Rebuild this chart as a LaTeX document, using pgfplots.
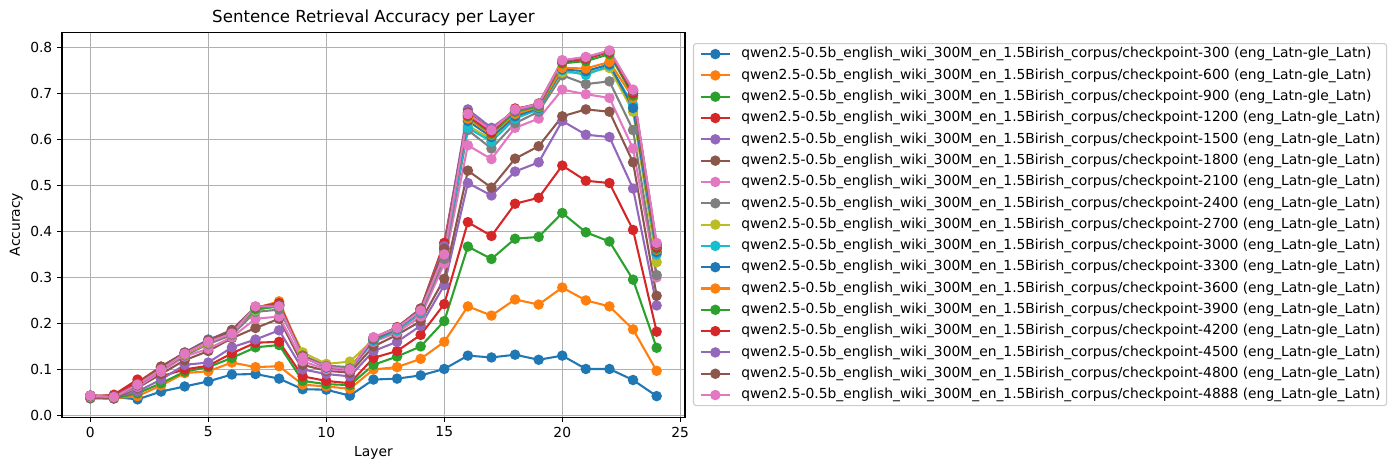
\documentclass[border=0pt]{standalone}
\usepackage{fontspec}
\setmainfont{DejaVu Sans}
\usepackage{pgfplots}
\usepackage{pgfplotstable}
\pgfplotsset{compat=1.18}
\definecolor{c0}{HTML}{1F77B4}
\definecolor{c1}{HTML}{FF7F0E}
\definecolor{c2}{HTML}{2CA02C}
\definecolor{c3}{HTML}{D62728}
\definecolor{c4}{HTML}{9467BD}
\definecolor{c5}{HTML}{8C564B}
\definecolor{c6}{HTML}{E377C2}
\definecolor{c7}{HTML}{7F7F7F}
\definecolor{c8}{HTML}{BCBD22}
\definecolor{c9}{HTML}{17BECF}
\definecolor{gridc}{HTML}{B0B0B0}
\definecolor{legc}{HTML}{CCCCCC}

\pgfplotstableread{
layer c300 c600 c900 c1200 c1500 c1800 c2100 c2400 c2700 c3000 c3300 c3600 c3900 c4200 c4500 c4800 c4888
0 0.040 0.038 0.037 0.040 0.040 0.038 0.040 0.042 0.043 0.043 0.042 0.043 0.042 0.043 0.043 0.043 0.043
1 0.040 0.037 0.037 0.045 0.040 0.037 0.040 0.040 0.041 0.041 0.042 0.042 0.041 0.043 0.042 0.042 0.040
2 0.035 0.042 0.048 0.078 0.052 0.060 0.062 0.065 0.068 0.067 0.066 0.068 0.067 0.072 0.068 0.068 0.067
3 0.052 0.065 0.070 0.085 0.078 0.090 0.095 0.100 0.103 0.105 0.104 0.105 0.104 0.106 0.105 0.106 0.100
4 0.063 0.092 0.095 0.100 0.110 0.120 0.128 0.130 0.133 0.135 0.136 0.135 0.134 0.136 0.137 0.136 0.134
5 0.074 0.096 0.105 0.108 0.115 0.140 0.145 0.155 0.158 0.162 0.165 0.163 0.160 0.162 0.164 0.163 0.160
6 0.089 0.115 0.125 0.135 0.148 0.168 0.170 0.175 0.182 0.180 0.182 0.185 0.183 0.184 0.186 0.185 0.178
7 0.090 0.105 0.148 0.158 0.165 0.190 0.210 0.225 0.228 0.230 0.232 0.233 0.232 0.235 0.236 0.236 0.237
8 0.080 0.107 0.153 0.160 0.185 0.210 0.215 0.230 0.240 0.238 0.240 0.248 0.236 0.244 0.240 0.240 0.237
9 0.057 0.067 0.075 0.085 0.100 0.110 0.118 0.130 0.137 0.128 0.127 0.130 0.130 0.128 0.129 0.128 0.126
10 0.056 0.063 0.068 0.075 0.090 0.097 0.100 0.108 0.112 0.105 0.104 0.106 0.107 0.106 0.107 0.106 0.106
11 0.043 0.058 0.066 0.070 0.085 0.093 0.098 0.105 0.117 0.100 0.100 0.101 0.102 0.100 0.101 0.100 0.100
12 0.078 0.100 0.110 0.125 0.140 0.150 0.160 0.162 0.165 0.163 0.165 0.167 0.166 0.168 0.168 0.169 0.170
13 0.080 0.105 0.128 0.140 0.160 0.175 0.180 0.185 0.188 0.185 0.188 0.190 0.189 0.192 0.190 0.191 0.190
14 0.087 0.123 0.150 0.175 0.195 0.205 0.215 0.222 0.228 0.225 0.228 0.232 0.230 0.232 0.231 0.232 0.228
15 0.101 0.160 0.205 0.242 0.283 0.297 0.330 0.340 0.360 0.355 0.362 0.374 0.365 0.375 0.368 0.362 0.350
16 0.130 0.237 0.367 0.420 0.505 0.532 0.587 0.620 0.630 0.625 0.640 0.645 0.650 0.652 0.665 0.658 0.655
17 0.126 0.217 0.340 0.390 0.478 0.495 0.557 0.580 0.600 0.595 0.605 0.610 0.612 0.615 0.625 0.620 0.620
18 0.132 0.252 0.384 0.460 0.530 0.558 0.625 0.635 0.650 0.645 0.650 0.655 0.660 0.667 0.662 0.665 0.665
19 0.121 0.241 0.388 0.473 0.550 0.585 0.645 0.660 0.668 0.665 0.668 0.670 0.672 0.675 0.675 0.678 0.677
20 0.130 0.278 0.440 0.543 0.640 0.650 0.708 0.739 0.745 0.750 0.752 0.755 0.765 0.768 0.770 0.771 0.772
21 0.101 0.250 0.398 0.510 0.610 0.665 0.698 0.720 0.745 0.740 0.748 0.754 0.770 0.775 0.778 0.778 0.779
22 0.101 0.237 0.378 0.505 0.605 0.660 0.690 0.726 0.755 0.760 0.763 0.768 0.785 0.790 0.792 0.792 0.793
23 0.077 0.187 0.295 0.403 0.493 0.550 0.580 0.620 0.660 0.675 0.668 0.690 0.695 0.700 0.705 0.706 0.708
24 0.042 0.097 0.147 0.182 0.239 0.260 0.300 0.305 0.333 0.350 0.355 0.360 0.362 0.365 0.370 0.372 0.375
}\data

\newcommand{\lbl}[1]{qwen2.5-0.5b\_english\_wiki\_300M\_en\_1.5Birish\_corpus/checkpoint-#1 (eng\_Latn-gle\_Latn)}

\begin{document}
\begin{tikzpicture}
\useasboundingbox (-44.8pt,-38.3pt) rectangle (962.6pt,301.4pt);
\begin{axis}[
  at={(0,0)}, anchor=south west,
  scale only axis, width=450.2pt, height=278.2pt,
  xmin=-1.2, xmax=25.2, ymin=-0.0035, ymax=0.833,
  xtick={0,5,10,15,20,25},
  ytick={0,0.1,0.2,0.3,0.4,0.5,0.6,0.7,0.8},
  yticklabel style={/pgf/number format/.cd, fixed, fixed zerofill, precision=1},
  /pgf/number format/assume math mode=true,
  tick label style={font=\fontsize{10}{12}\selectfont},
  grid=major,
  grid style={color=gridc, line width=0.8pt},
  axis line style={line width=0.8pt},
  tick pos=left, tick align=outside,
  major tick length=3.5pt,
  every tick/.style={black, line width=0.8pt},
  xlabel={Layer}, ylabel={Accuracy},
  every axis x label/.style={at={(axis description cs:0.5,-0.092)}, anchor=center, font=\fontsize{10}{12}\selectfont},
  every axis y label/.style={at={(axis description cs:-0.0735,0.5)}, anchor=center, rotate=90, font=\fontsize{10}{12}\selectfont},
  title={Sentence Retrieval Accuracy per Layer},
  every axis title/.style={at={(axis description cs:0.5,1.038)}, anchor=center, font=\fontsize{12}{14}\selectfont},
  every axis plot/.append style={line width=1.5pt, mark=*, mark size=3pt, mark options={solid, line width=1pt}},
  legend cell align=left,
  legend image code/.code={\draw[mark repeat=2, mark phase=2, fill opacity=1, draw opacity=1] plot coordinates {(0pt,0pt) (10.5pt,0pt) (21pt,0pt)};},
  legend style={at={(rel axis cs:1,0.5)}, anchor=west, xshift=5.8pt,
    draw=legc, line width=0.8pt, rounded corners=2pt, fill=white, fill opacity=0.8, text opacity=1,
    font=\fontsize{10}{12}\selectfont,
    inner xsep=4.5pt, inner ysep=2.4pt, row sep=5pt, column sep=7.5pt,
    nodes={inner sep=0pt, text height=7.9pt, text depth=2.5pt}},
]
\addplot[color=c0, mark options={fill=c0}] table[x=layer, y=c300] {\data};
\addlegendentry{\lbl{300}}
\addplot[color=c1, mark options={fill=c1}] table[x=layer, y=c600] {\data};
\addlegendentry{\lbl{600}}
\addplot[color=c2, mark options={fill=c2}] table[x=layer, y=c900] {\data};
\addlegendentry{\lbl{900}}
\addplot[color=c3, mark options={fill=c3}] table[x=layer, y=c1200] {\data};
\addlegendentry{\lbl{1200}}
\addplot[color=c4, mark options={fill=c4}] table[x=layer, y=c1500] {\data};
\addlegendentry{\lbl{1500}}
\addplot[color=c5, mark options={fill=c5}] table[x=layer, y=c1800] {\data};
\addlegendentry{\lbl{1800}}
\addplot[color=c6, mark options={fill=c6}] table[x=layer, y=c2100] {\data};
\addlegendentry{\lbl{2100}}
\addplot[color=c7, mark options={fill=c7}] table[x=layer, y=c2400] {\data};
\addlegendentry{\lbl{2400}}
\addplot[color=c8, mark options={fill=c8}] table[x=layer, y=c2700] {\data};
\addlegendentry{\lbl{2700}}
\addplot[color=c9, mark options={fill=c9}] table[x=layer, y=c3000] {\data};
\addlegendentry{\lbl{3000}}
\addplot[color=c0, mark options={fill=c0}] table[x=layer, y=c3300] {\data};
\addlegendentry{\lbl{3300}}
\addplot[color=c1, mark options={fill=c1}] table[x=layer, y=c3600] {\data};
\addlegendentry{\lbl{3600}}
\addplot[color=c2, mark options={fill=c2}] table[x=layer, y=c3900] {\data};
\addlegendentry{\lbl{3900}}
\addplot[color=c3, mark options={fill=c3}] table[x=layer, y=c4200] {\data};
\addlegendentry{\lbl{4200}}
\addplot[color=c4, mark options={fill=c4}] table[x=layer, y=c4500] {\data};
\addlegendentry{\lbl{4500}}
\addplot[color=c5, mark options={fill=c5}] table[x=layer, y=c4800] {\data};
\addlegendentry{\lbl{4800}}
\addplot[color=c6, mark options={fill=c6}] table[x=layer, y=c4888] {\data};
\addlegendentry{\lbl{4888}}
\end{axis}
\end{tikzpicture}
\end{document}
